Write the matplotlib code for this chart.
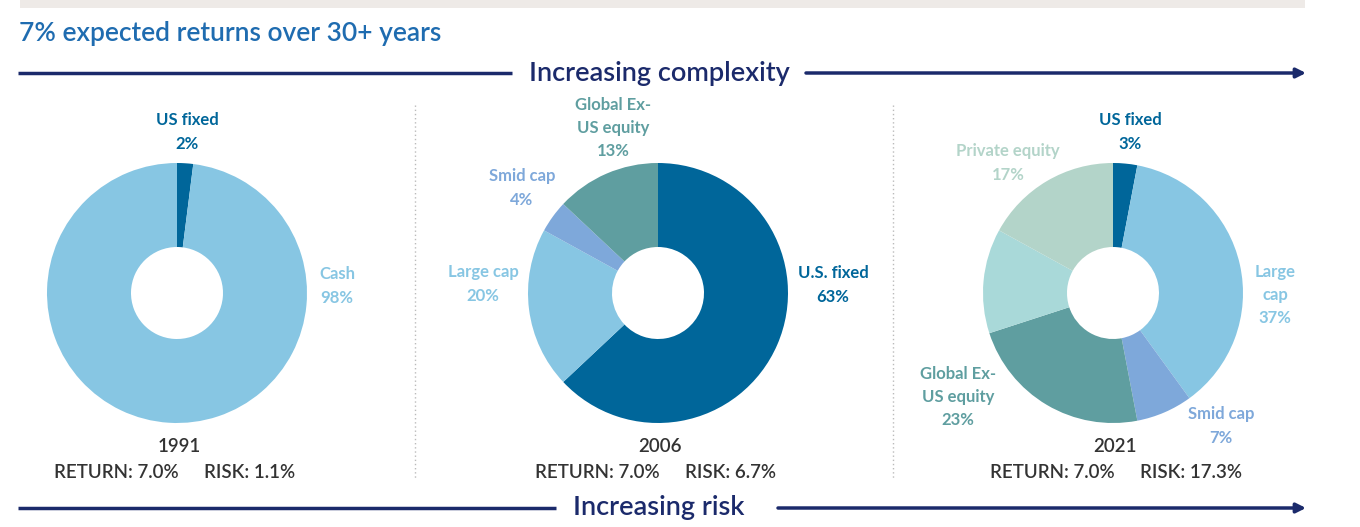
import matplotlib as mpl
mpl.use('Agg')
import matplotlib.pyplot as plt

# portfolio data
years = ['1991', '2006', '2021']
returns = [7.0, 7.0, 7.0]
risks = [1.1, 6.7, 17.3]

labels_1991 = ['US fixed', 'Cash']
values_1991 = [2, 98]

labels_2006 = ['U.S. fixed', 'Large cap', 'Smid cap', 'Global Ex-\nUS equity']
values_2006 = [63, 20, 4, 13]

labels_2021 = ['US fixed', 'Large\ncap', 'Smid cap', 'Global Ex-\nUS equity', '', 'Private equity']
values_2021 = [3, 37, 7, 23, 13, 17]

# colours per asset class
c_fixed = '#00669a'
c_large = '#87c6e3'
c_smid = '#7ea8da'
c_global = '#5f9ea0'
c_other = '#a9d9d9'
c_private = '#b3d4c9'
navy = '#1b2a6b'
blue_title = '#1f6cb0'
grey_text = '#333333'

colors_1991 = [c_fixed, c_large]
colors_2006 = [c_fixed, c_large, c_smid, c_global]
colors_2021 = [c_fixed, c_large, c_smid, c_global, c_other, c_private]

W, H = 1360, 527
R_OUT, R_IN = 130, 46

plt.rcParams['font.family'] = ['Lato', 'DejaVu Sans']

fig = plt.figure(figsize=(W / 100, H / 100), dpi=100)

# background axes in pixel coordinates for text, arrows and separators
bg = fig.add_axes([0, 0, 1, 1])
bg.set_xlim(0, W)
bg.set_ylim(H, 0)
bg.axis('off')

bg.fill_between([20, 1305], 0, 8, color='#eeeae7', lw=0)
bg.text(19, 33, '7% expected returns over 30+ years', color=blue_title,
        fontsize=19, va='center', ha='left', fontweight='semibold')


def arrow_row(y, text, gap_l, gap_r):
    bg.plot([18, gap_l], [y, y], color=navy, lw=2.5, solid_capstyle='butt')
    bg.annotate('', xy=(1306, y), xytext=(gap_r, y),
                arrowprops=dict(arrowstyle='-|>', color=navy, lw=2.5,
                                mutation_scale=14, shrinkA=0, shrinkB=0))
    bg.text(659, y, text, color=navy, fontsize=19.5, ha='center', va='center',
            fontweight='semibold')


arrow_row(73, 'Increasing complexity', 512, 806)
arrow_row(508, 'Increasing risk', 556, 778)

for sx in [415, 893]:
    bg.plot([sx, sx], [105, 478], color='#bbbbbb', lw=1, linestyle=(0, (1, 2)))

centers = [(177, 293), (658, 293), (1113, 293)]
all_values = [values_1991, values_2006, values_2021]
all_colors = [colors_1991, colors_2006, colors_2021]

for (cx, cy), vals, cols in zip(centers, all_values, all_colors):
    ax = fig.add_axes([(cx - R_OUT) / W, 1 - (cy + R_OUT) / H,
                       2 * R_OUT / W, 2 * R_OUT / H])
    ax.pie(vals, colors=cols, startangle=90, counterclock=False,
           radius=1, wedgeprops=dict(width=1 - R_IN / R_OUT, linewidth=0))
    ax.set_xlim(-1, 1)
    ax.set_ylim(-1, 1)
    ax.axis('off')

# label placement (pixel centre of each label block)
label_pos = [
    [(187, 132), (337, 286)],
    [(833, 285), (483, 284), (522, 188), (613, 128)],
    [(1130, 132), (1275, 295), (1221, 426), (958, 397), None, (1008, 163)],
]
all_labels = [labels_1991, labels_2006, labels_2021]

for labs, vals, cols, pos in zip(all_labels, all_values, all_colors, label_pos):
    for lab, v, c, p in zip(labs, vals, cols, pos):
        if p is None or lab == '':
            continue
        bg.text(p[0], p[1], '%s\n%d%%' % (lab, v), color=c, fontsize=12,
                fontweight='bold', ha='center', va='center', linespacing=1.55)

for (cx, cy), yr, ret, rsk in zip(centers, years, returns, risks):
    bg.text(cx + 2, 447, yr, color=grey_text, fontsize=13.5, ha='center',
            va='center', fontweight='semibold')
    bg.text(cx + 2, 473, 'RETURN: %.1f%%' % ret, color=grey_text, fontsize=13.5,
            ha='right', va='center', fontweight='semibold')
    bg.text(cx + 27, 473, 'RISK: %.1f%%' % rsk, color=grey_text, fontsize=13.5,
            ha='left', va='center', fontweight='semibold')

fig.savefig('out.png', dpi=100)
